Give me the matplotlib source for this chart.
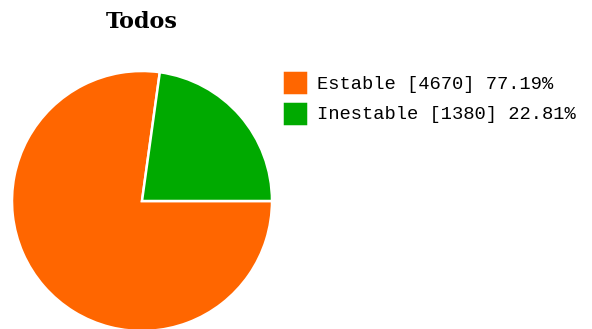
import matplotlib.pyplot as plt

# datos del grafico
categorias = ["Estable", "Inestable"]
valores = [4670, 1380]
colores = ["#FF6600", "#00AA00"]
titulo = "Todos"

total = sum(valores)
etiquetas = [f"{c} [{v}] {v / total * 100:.2f}%" for c, v in zip(categorias, valores)]

fig = plt.figure(figsize=(5.92, 3.29), dpi=100)
ax = fig.add_axes([0, 0, 1, 1])

# pixel coords, y hacia arriba
cuñas, _ = ax.pie(valores, colors=colores, startangle=0, counterclock=False,
                  radius=130, center=(142, 329 - 201),
                  wedgeprops=dict(edgecolor="white", linewidth=1.8))
ax.set_xlim(0, 592)
ax.set_ylim(0, 329)
ax.set_aspect("equal")
ax.axis("off")

ax.text(142, 329 - 22, titulo, ha="center", va="center",
        fontsize=16, fontweight="bold", family="DejaVu Serif")

ax.legend(cuñas, etiquetas, loc="upper left", bbox_to_anchor=(282, 329 - 70),
          bbox_transform=ax.transData, frameon=False, borderpad=0, borderaxespad=0,
          handlelength=1.4, handleheight=1.7, handletextpad=0.45, labelspacing=0.28,
          prop=dict(family="Liberation Mono", size=13.5))

fig.savefig("out.png", dpi=100)
